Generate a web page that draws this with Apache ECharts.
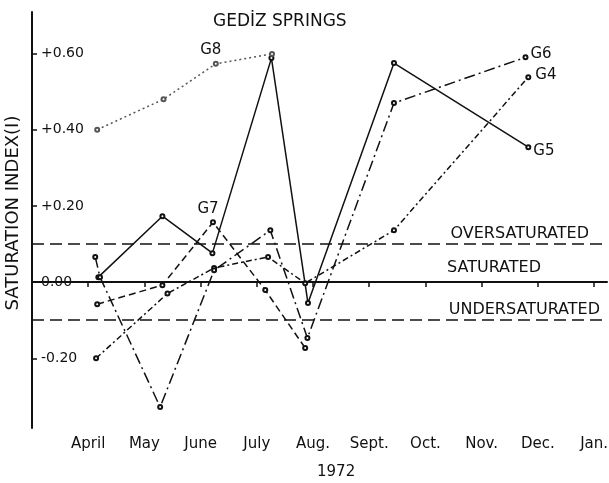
<!DOCTYPE html>
<html>
<head>
<meta charset="utf-8">
<script src="https://cdn.jsdelivr.net/npm/echarts@6/dist/echarts.min.js"></script>
<style>
  html, body { margin: 0; padding: 0; background: #fff; }
  #chart { width: 609px; height: 483px; }
</style>
</head>
<body>
<div id="chart"></div>
<script>
// month axis: 4 = April ... 13 = Jan. (1972)
const monthTicks = [4, 5, 6, 7, 8, 9, 10, 11, 12, 13];
const monthNames = ["April", "May", "June", "July", "Aug.", "Sept.", "Oct.", "Nov.", "Dec.", "Jan."];
const yTickValues = [-0.2, 0.2, 0.4, 0.6];
const yLabelValues = [-0.2, 0, 0.2, 0.4, 0.6];

// sampling dates (fraction of month) and saturation index per spring
const g4Dates = [4.14, 5.41, 6.24, 7.2, 7.86, 9.44, 11.83];
const g4Index = [-0.2, -0.03, 0.037, 0.066, -0.003, 0.136, 0.538];

const g5Dates = [4.18, 5.32, 6.21, 7.26, 7.91, 9.44, 11.83];
const g5Index = [0.013, 0.173, 0.076, 0.588, -0.055, 0.575, 0.354];

const g6Dates = [4.125, 4.21, 5.28, 6.24, 7.24, 7.9, 9.44, 11.78];
const g6Index = [0.066, 0.013, -0.328, 0.031, 0.136, -0.147, 0.47, 0.59];

const g7Dates = [4.16, 5.32, 6.22, 7.15, 7.86];
const g7Index = [-0.058, -0.008, 0.157, -0.021, -0.173];

const g8Dates = [4.16, 5.34, 6.27, 7.27];
const g8Index = [0.4, 0.48, 0.573, 0.599];

// reference levels
const overLevel = 0.1;
const satLevel = 0;
const underLevel = -0.1;

const font = "DejaVu Sans";
const ink = "#111";

function pairs(xs, ys, labelIdx, labelText) {
  return xs.map(function (x, i) {
    const item = { value: [x, ys[i]] };
    if (i === labelIdx) {
      item.label = {
        show: true,
        formatter: labelText,
        position: "top",
        distance: 3,
        offset: [-5, 0],
        fontFamily: font,
        fontSize: 15,
        color: ink,
      };
    }
    return item;
  });
}

function springSeries(name, data, dash, color, endOffset) {
  return {
    name: name,
    type: "line",
    data: data,
    symbol: "emptyCircle",
    symbolSize: 4,
    itemStyle: { color: color, borderWidth: 1.4 },
    lineStyle: { color: color, width: 1.5, type: dash },
    endLabel: endOffset
      ? {
          show: true,
          formatter: name,
          distance: 3,
          offset: endOffset,
          fontFamily: font,
          fontSize: 15,
          color: ink,
        }
      : { show: false },
    animation: false,
    z: 3,
  };
}

const chart = echarts.init(document.getElementById("chart"));

const refLabel = { fontFamily: font, fontSize: 16, color: ink, position: "insideEndTop", distance: 2 };

const option = {
  backgroundColor: "#fff",
  animation: false,
  title: [
    {
      text: "GEDİZ SPRINGS",
      left: 208,
      top: 8,
      textStyle: { fontFamily: font, fontSize: 17, fontWeight: "normal", color: ink },
    },
    {
      text: "1972",
      left: 312,
      top: 460,
      textStyle: { fontFamily: font, fontSize: 15, fontWeight: "normal", color: ink },
    },
  ],
  graphic: [
    {
      type: "text",
      x: 13,
      y: 213,
      rotation: Math.PI / 2,
      style: {
        text: "SATURATION INDEX(I)",
        font: "18px 'DejaVu Sans'",
        fill: ink,
        align: "center",
        verticalAlign: "middle",
      },
    },
  ],
  grid: { left: 32, right: 2, top: 12, bottom: 55, outerBoundsMode: "none" },
  xAxis: {
    type: "value",
    min: 3,
    max: 13.23,
    splitLine: { show: false },
    axisLine: { lineStyle: { color: ink, width: 2 } },
    axisTick: {
      customValues: monthTicks,
      length: 5,
      lineStyle: { color: ink, width: 1.5 },
    },
    axisLabel: {
      customValues: monthTicks,
      margin: 9,
      fontFamily: font,
      fontSize: 15,
      color: ink,
      formatter: function (v) {
        const i = monthTicks.indexOf(Math.round(v));
        return i >= 0 ? monthNames[i] : "";
      },
    },
  },
  yAxis: {
    type: "value",
    min: -0.383,
    max: 0.709,
    splitLine: { show: false },
    axisLine: { lineStyle: { color: ink, width: 2 } },
    axisTick: {
      customValues: yTickValues,
      inside: true,
      length: 5,
      lineStyle: { color: ink, width: 1.5 },
    },
    axisLabel: {
      customValues: yLabelValues,
      inside: true,
      margin: 9,
      fontFamily: font,
      fontSize: 14,
      color: ink,
      formatter: function (v) {
        return (v > 0.001 ? "+" : "") + v.toFixed(2);
      },
    },
  },
  series: [
    springSeries("G5", pairs(g5Dates, g5Index), "solid", ink, [2, 4]),
    springSeries("G4", pairs(g4Dates, g4Index), [6, 3, 2, 3], ink, [4, -2]),
    springSeries("G6", pairs(g6Dates, g6Index), [11, 4, 2, 4], ink, [2, -3]),
    springSeries("G7", pairs(g7Dates, g7Index, 2, "G7"), [7, 4], ink, null),
    springSeries("G8", pairs(g8Dates, g8Index, 2, "G8"), [2, 3], "#555", null),
    {
      // horizontal reference lines
      type: "line",
      data: [],
      silent: true,
      markLine: {
        silent: true,
        symbol: "none",
        animation: false,
        data: [
          {
            yAxis: overLevel,
            lineStyle: { color: ink, width: 1.5, type: [12, 6] },
            label: Object.assign({}, refLabel, { formatter: "OVERSATURATED", padding: [0, 16, 0, 0] }),
          },
          {
            yAxis: satLevel,
            lineStyle: { color: ink, width: 1.5, type: "solid" },
            label: Object.assign({}, refLabel, { formatter: "SATURATED", distance: 6, padding: [0, 60, 0, 0] }),
          },
          {
            yAxis: underLevel,
            lineStyle: { color: ink, width: 1.5, type: [12, 6] },
            label: Object.assign({}, refLabel, { formatter: "UNDERSATURATED", padding: [0, 5, 0, 0] }),
          },
        ],
      },
    },
  ],
};

chart.setOption(option);
window.addEventListener("resize", function () {
  chart.resize();
});
</script>
</body>
</html>
